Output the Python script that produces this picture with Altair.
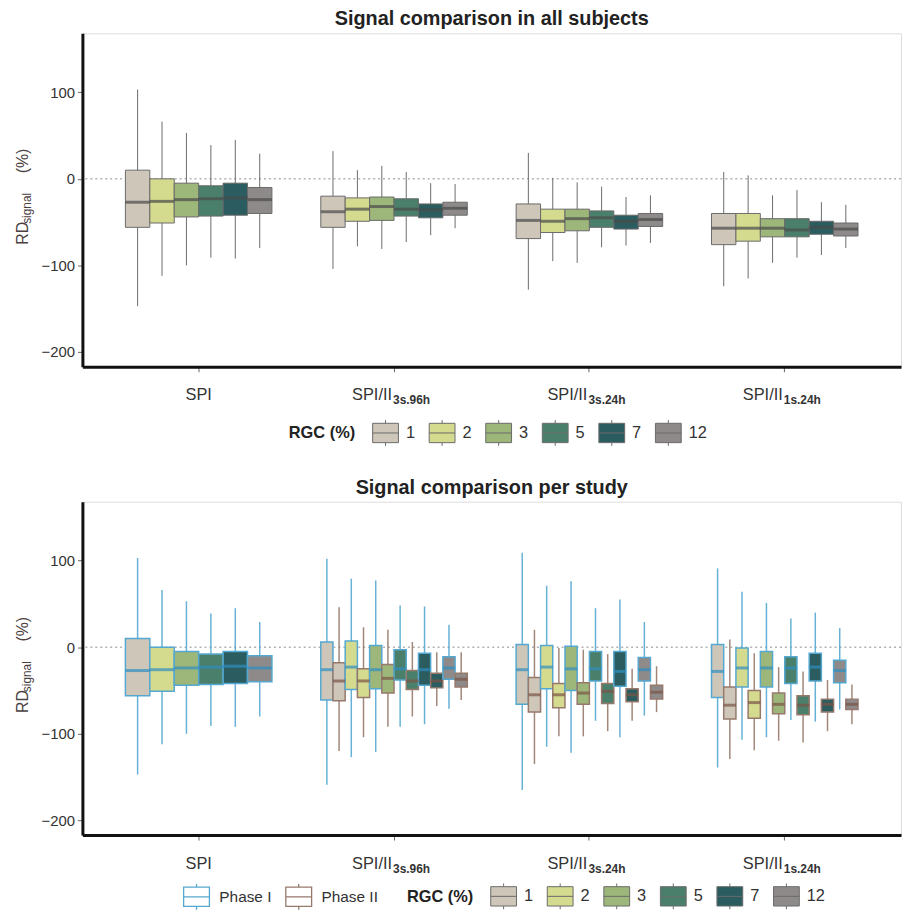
import altair as alt
import pandas as pd

# ---------------- data ----------------
categories = ["SPI", "SPI/II 3s.96h", "SPI/II 3s.24h", "SPI/II 1s.24h"]
label_main = ["SPI", "SPI/II", "SPI/II", "SPI/II"]
label_sub = ["", "3s.96h", "3s.24h", "1s.24h"]
rgc_levels = ["1", "2", "3", "5", "7", "12"]
rgc_colors = ["#cdc6b9", "#d4da8e", "#9db679", "#4a806b", "#2b5c5f", "#8e8a8a"]
phases = ["Phase I", "Phase II"]
phase_colors = ["#55a8d0", "#97796c"]
phase_median_colors = ["#2f8fc0", "#7b5446"]

# Top panel (all subjects): one list per category, values ordered by RGC 1,2,3,5,7,12
all_low = [[-147, -112, -100, -91, -92, -80],
           [-104, -78, -81, -73, -65, -57],
           [-128, -95, -97, -79, -77, -74],
           [-124, -115, -97, -91, -88, -80]]
all_q1 = [[-56, -51, -44, -43, -42, -40],
          [-56, -49, -48, -43, -45, -42],
          [-69, -62, -60, -56, -58, -55],
          [-76, -72, -67, -67, -64, -66]]
all_med = [[-27, -26, -24, -23, -22, -24],
           [-38, -35, -32, -35, -36, -34],
           [-48, -49, -46, -45, -49, -47],
           [-57, -57, -57, -59, -56, -58]]
all_q3 = [[10, 0, -5, -8, -5, -10],
          [-20, -22, -21, -23, -29, -27],
          [-29, -35, -35, -37, -42, -40],
          [-40, -40, -46, -46, -49, -51]]
all_high = [[103, 66, 53, 39, 45, 29],
            [32, 10, 15, 8, -5, -6],
            [30, 1, -4, -9, -21, -19],
            [8, 4, -19, -13, -27, -30]]

# Bottom panel (per study), categories 2-4; SPI only exists for Phase I (same as top)
p1_low = [[-159, -127, -121, -92, -89, -71],
          [-165, -115, -122, -85, -104, -79],
          [-139, -107, -104, -84, -86, -72]]
p1_q1 = [[-61, -49, -48, -38, -44, -37],
         [-66, -48, -50, -39, -45, -39],
         [-58, -46, -46, -42, -39, -41]]
p1_med = [[-26, -23, -26, -25, -26, -24],
          [-26, -23, -25, -25, -28, -26],
          [-28, -24, -24, -24, -23, -27]]
p1_q3 = [[6, 7, 2, -3, -7, -11],
         [3, 2, 1, -5, -5, -12],
         [3, -1, -5, -11, -7, -15]]
p1_high = [[102, 79, 77, 48, 47, 26],
           [109, 71, 76, 45, 55, 29],
           [91, 64, 51, 33, 40, 22]]

p2_low = [[-120, -104, -92, -80, -68, -61],
          [-135, -103, -103, -97, -85, -75],
          [-129, -119, -108, -110, -97, -89]]
p2_q1 = [[-62, -58, -53, -49, -47, -46],
         [-75, -70, -66, -65, -63, -60],
         [-83, -82, -77, -78, -75, -72]]
p2_med = [[-39, -39, -36, -39, -39, -37],
          [-55, -55, -53, -51, -55, -52],
          [-67, -64, -66, -67, -66, -66]]
p2_q3 = [[-18, -25, -20, -27, -30, -30],
         [-35, -42, -41, -42, -48, -44],
         [-46, -50, -53, -56, -60, -60]]
p2_high = [[46, 23, 20, 6, -6, -6],
           [20, -1, -3, -8, -25, -22],
           [9, -7, -23, -28, -38, -43]]

titles = ["Signal comparison in all subjects", "Signal comparison per study"]

# ---------------- tables ----------------
top_rows = []
for ci, c in enumerate(categories):
    for ri, r in enumerate(rgc_levels):
        top_rows.append(dict(cat=c, rgc=r, low=all_low[ci][ri], q1=all_q1[ci][ri],
                             med=all_med[ci][ri], q3=all_q3[ci][ri], high=all_high[ci][ri]))
top_df = pd.DataFrame(top_rows)

spi_df = top_df[top_df["cat"] == "SPI"].copy()
spi_df["phase"] = "Phase I"

slots = []
for r in rgc_levels:
    for p in phases:
        slots.append(f"{r}|{p}")

oth_rows = []
for ci, c in enumerate(categories[1:]):
    for ri, r in enumerate(rgc_levels):
        for p, lo, a, m, b, hi in (("Phase I", p1_low, p1_q1, p1_med, p1_q3, p1_high),
                                   ("Phase II", p2_low, p2_q1, p2_med, p2_q3, p2_high)):
            oth_rows.append(dict(cat=c, rgc=r, phase=p, slot=f"{r}|{p}",
                                 low=lo[ci][ri], q1=a[ci][ri], med=m[ci][ri],
                                 q3=b[ci][ri], high=hi[ci][ri]))
oth_df = pd.DataFrame(oth_rows)

lab_df = pd.DataFrame(dict(cat=categories, main=label_main, sub=label_sub))

# ---------------- styling ----------------
W, H = 825, 336
FONT = "Liberation Sans"
NARROW = "Liberation Sans Narrow, Liberation Sans, sans-serif"
TXT = "#333333"
BOX_SYMBOL = "M0,-1V-0.75M-1,-0.75H1V0.75H-1ZM-1,0H1M0,0.75V1"

x_scale = alt.Scale(domain=categories, paddingInner=0.25, paddingOuter=0.22)
y_scale = alt.Scale(domain=[-217, 168], nice=False, zero=False)
x_axis = alt.Axis(labels=False, title=None, ticks=True, tickSize=5, tickColor="#666",
                  domainColor="#111111", domainWidth=3, grid=False)
y_axis = alt.Axis(values=[-200, -100, 0, 100], title=None, tickSize=5, tickColor="#666",
                  domainColor="#111111", domainWidth=3, labelFont=FONT, labelFontSize=15,
                  labelColor=TXT, labelPadding=3, grid=False)


def X():
    return alt.X("cat:N", scale=x_scale, axis=x_axis)


def Y(field):
    return alt.Y(f"{field}:Q", scale=y_scale, axis=y_axis)


fill_scale = alt.Scale(domain=rgc_levels, range=rgc_colors)
stroke_scale = alt.Scale(domain=phases, range=phase_colors)


def common_layers(title):
    d = pd.DataFrame({"t": [0]})
    zero = alt.Chart(pd.DataFrame({"z": [0]})).mark_rule(
        color="#8a8a8a", strokeDash=[2, 3], strokeWidth=1).encode(
        y=alt.Y("z:Q", scale=y_scale, axis=y_axis))
    ttl = alt.Chart(d).mark_text(text=title, align="center", baseline="alphabetic",
                                 fontSize=20, font=FONT, fontWeight="bold",
                                 color="#222222").encode(x=alt.value(W / 2), y=alt.value(-8))
    spi_lab = alt.Chart(lab_df[lab_df["sub"] == ""]).mark_text(
        align="center", baseline="middle", fontSize=16.5, font=NARROW, color=TXT
    ).encode(x=X(), y=alt.value(H + 29), text="main:N")
    main_lab = alt.Chart(lab_df[lab_df["sub"] != ""]).mark_text(
        align="right", baseline="middle", fontSize=16.5, font=NARROW, color=TXT, dx=-2
    ).encode(x=X(), y=alt.value(H + 29), text="main:N")
    sub_lab = alt.Chart(lab_df[lab_df["sub"] != ""]).mark_text(
        align="left", baseline="middle", fontSize=12, font=NARROW, fontWeight="bold",
        color=TXT, dx=-1, dy=5
    ).encode(x=X(), y=alt.value(H + 29), text="sub:N")
    yt1 = alt.Chart(d).mark_text(text="RD", angle=270, align="left", baseline="alphabetic",
                                 fontSize=16, font=FONT, color="#4a4040").encode(
        x=alt.value(-55), y=alt.value(213))
    yt2 = alt.Chart(d).mark_text(text="signal", angle=270, align="left", baseline="alphabetic",
                                 fontSize=12, font=FONT, color="#4a4040", dy=3).encode(
        x=alt.value(-55), y=alt.value(192))
    yt3 = alt.Chart(d).mark_text(text="(%)", angle=270, align="left", baseline="alphabetic",
                                 fontSize=16, font=FONT, color="#4a4040").encode(
        x=alt.value(-55), y=alt.value(141))
    return [zero, ttl, spi_lab, main_lab, sub_lab, yt1, yt2, yt3]


def rgc_legend(x, y):
    return alt.Legend(title="RGC (%)", orient="none", legendX=x, legendY=y,
                      direction="horizontal", titleOrient="left", titleFont=NARROW,
                      titleFontSize=16.5, titleFontWeight="bold", titleColor="#222",
                      titleBaseline="middle",
                      labelFont=NARROW, labelFontSize=16.5, labelColor=TXT,
                      symbolType=BOX_SYMBOL, symbolSize=676, symbolStrokeColor="#6b6b6b",
                      symbolStrokeWidth=1, labelOffset=7, columnPadding=11, titlePadding=17)


# ---------------- top panel ----------------
off6 = alt.XOffset("rgc:N", scale=alt.Scale(domain=rgc_levels, paddingInner=0, paddingOuter=0))

top_base = alt.Chart(top_df)
t_whisk = top_base.mark_rule(color="#6b6b6b", strokeWidth=1).encode(
    x=X(), xOffset=off6, y=Y("low"), y2="high:Q")
t_box = top_base.mark_bar(stroke="#6b6b6b", strokeWidth=1).encode(
    x=X(), xOffset=off6, y=Y("q1"), y2="q3:Q",
    fill=alt.Fill("rgc:N", scale=fill_scale, legend=rgc_legend(208, 389)))
t_med = top_base.mark_tick(color="#4a4a4a", thickness=3, size=24.6).encode(
    x=X(), xOffset=off6, y=Y("med"))

top = alt.layer(*common_layers(titles[0]), t_whisk, t_box, t_med).properties(
    width=W, height=H)

# ---------------- bottom panel ----------------
phase_legend = alt.Legend(title=None, orient="none", legendX=101, legendY=384,
                          direction="horizontal", labelFont=NARROW, labelFontSize=15.5,
                          labelColor=TXT, symbolType=BOX_SYMBOL, symbolSize=676,
                          symbolFillColor="white", symbolStrokeWidth=1.3, labelOffset=9,
                          columnPadding=11)

spi_base = alt.Chart(spi_df)
s_whisk = spi_base.mark_rule(strokeWidth=1.5, strokeOpacity=0.9).encode(
    x=X(), xOffset=off6, y=Y("low"), y2="high:Q",
    stroke=alt.Stroke("phase:N", scale=stroke_scale, legend=phase_legend))
s_box = spi_base.mark_bar(strokeWidth=1.5).encode(
    x=X(), xOffset=off6, y=Y("q1"), y2="q3:Q",
    fill=alt.Fill("rgc:N", scale=fill_scale, legend=rgc_legend(327, 384)),
    stroke=alt.Stroke("phase:N", scale=stroke_scale, legend=phase_legend))
s_med = spi_base.mark_tick(thickness=3, size=24.6, color=phase_median_colors[0]).encode(
    x=X(), xOffset=off6, y=Y("med"))
spi_layer = alt.layer(s_whisk, s_box, s_med)

off12 = alt.XOffset("slot:N", scale=alt.Scale(domain=slots, paddingInner=0, paddingOuter=0))
oth_base = alt.Chart(oth_df)
o_whisk = oth_base.mark_rule(strokeWidth=1.5, strokeOpacity=0.9).encode(
    x=X(), xOffset=off12, y=Y("low"), y2="high:Q",
    stroke=alt.Stroke("phase:N", scale=stroke_scale, legend=phase_legend))
o_box = oth_base.mark_bar(strokeWidth=1.5).encode(
    x=X(), xOffset=off12, y=Y("q1"), y2="q3:Q",
    fill=alt.Fill("rgc:N", scale=fill_scale, legend=rgc_legend(327, 384)),
    stroke=alt.Stroke("phase:N", scale=stroke_scale, legend=phase_legend))
o_med1 = oth_base.transform_filter(alt.datum.phase == "Phase I").mark_tick(
    thickness=3, size=12.3, color=phase_median_colors[0]).encode(
    x=X(), xOffset=off12, y=Y("med"))
o_med2 = oth_base.transform_filter(alt.datum.phase == "Phase II").mark_tick(
    thickness=3, size=12.3, color=phase_median_colors[1]).encode(
    x=X(), xOffset=off12, y=Y("med"))
oth_layer = alt.layer(o_whisk, o_box, o_med1, o_med2)

bottom = alt.layer(*common_layers(titles[1]), spi_layer, oth_layer).resolve_scale(
    xOffset="independent").properties(width=W, height=H)

chart = alt.vconcat(top, bottom, spacing=28).resolve_scale(
    x="independent", y="independent", xOffset="independent").resolve_legend(
    fill="independent", stroke="independent").configure_view(stroke=None).configure(
    padding={"left": 6, "top": -3, "right": 0, "bottom": 0})

chart.save("out.html", embed_options={"renderer": "svg", "actions": False})
